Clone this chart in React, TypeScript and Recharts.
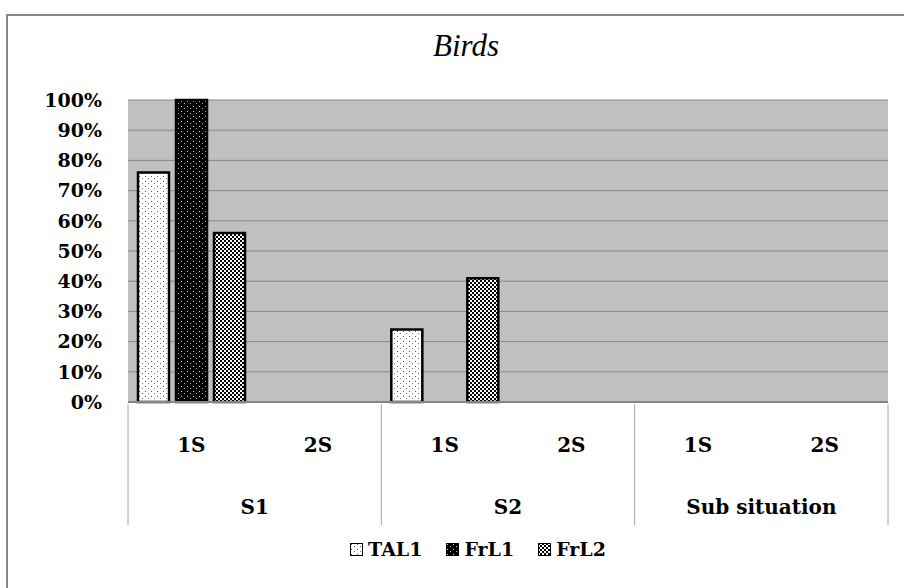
import { BarChart, Bar, XAxis, YAxis, CartesianGrid, Legend } from 'recharts';

const subLabels = ['1S', '2S', '1S', '2S', '1S', '2S'];
const groupLabels = ['S1', 'S1', 'S2', 'S2', 'Sub situation', 'Sub situation'];
const tal1 = [76, null, 24, null, null, null];
const frl1 = [100, null, null, null, null, null];
const frl2 = [56, null, 41, null, null, null];
const yTicks = [0, 10, 20, 30, 40, 50, 60, 70, 80, 90, 100];

const series = [
  { key: 'TAL1', fill: 'url(#patTal1)' },
  { key: 'FrL1', fill: 'url(#patFrl1)' },
  { key: 'FrL2', fill: 'url(#patFrl2)' },
];

const data = subLabels.map((sub, i) => ({
  sub,
  group: groupLabels[i],
  TAL1: tal1[i],
  FrL1: frl1[i],
  FrL2: frl2[i],
}));

const W = 904;
const H = 588;
const BAND = (W - 128 - 16) / subLabels.length;
const FONT = "'DejaVu Serif', serif";

function SubTick({ x, y, payload }: any) {
  return (
    <text x={x} y={y + 48} textAnchor="middle" fontFamily={FONT} fontWeight="bold" fontSize={20} fill="#000">
      {payload.value}
    </text>
  );
}

function GroupTick({ x, y, index, payload }: any) {
  const top = y - 61;
  const bottom = y + 60;
  if (index % 2 === 1) {
    return index === subLabels.length - 1 ? (
      <line x1={x + BAND / 2} x2={x + BAND / 2} y1={top} y2={bottom} stroke="#a6a6a6" strokeWidth={1} />
    ) : (
      <g />
    );
  }
  return (
    <g>
      <line x1={x - BAND / 2} x2={x - BAND / 2} y1={top} y2={bottom} stroke="#a6a6a6" strokeWidth={1} />
      <text x={x + BAND / 2} y={y + 49} textAnchor="middle" fontFamily={FONT} fontWeight="bold" fontSize={20} fill="#000">
        {payload.value}
      </text>
    </g>
  );
}

function LegendContent() {
  return (
    <div style={{ display: 'flex', justifyContent: 'center', gap: 24, paddingLeft: 52, fontFamily: FONT, fontWeight: 'bold', fontSize: 19 }}>
      {series.map((s) => (
        <span key={s.key} style={{ display: 'flex', alignItems: 'center' }}>
          <svg width={13} height={13} style={{ marginRight: 5 }}>
            <rect x={0.5} y={0.5} width={12} height={12} fill={s.fill} stroke="#000" strokeWidth={1} />
          </svg>
          {s.key}
        </span>
      ))}
    </div>
  );
}

export default function App() {
  return (
    <div style={{ position: 'absolute', left: 0, top: 0, width: W, height: H, overflow: 'hidden', background: '#fff' }}>
      <div
        style={{
          position: 'absolute',
          left: 6,
          top: 14,
          width: W,
          height: H,
          borderTop: '2px solid #868686',
          borderLeft: '2px solid #868686',
        }}
      />
      <div style={{ position: 'absolute', left: 0, top: 0 }}>
        <BarChart width={W} height={H} data={data} margin={{ top: 100, right: 16, bottom: 64, left: 0 }} barSize={31} barGap={7}>
          <defs>
            <pattern id="patTal1" width={6} height={5} patternUnits="userSpaceOnUse">
              <rect width={6} height={5} fill="#fff" />
              <rect x={1} y={1} width={1} height={1} fill="#555" />
              <rect x={4} y={3} width={1} height={1} fill="#777" />
            </pattern>
            <pattern id="patFrl1" width={6} height={5} patternUnits="userSpaceOnUse">
              <rect width={6} height={5} fill="#000" />
              <rect x={1} y={1} width={1} height={1} fill="#ddd" />
              <rect x={4} y={3} width={1} height={1} fill="#bbb" />
            </pattern>
            <pattern id="patFrl2" width={4} height={4} patternUnits="userSpaceOnUse">
              <rect width={4} height={4} fill="#fff" />
              <rect x={0} y={0} width={2} height={2} fill="#000" />
              <rect x={2} y={2} width={2} height={2} fill="#000" />
            </pattern>
          </defs>
          <text x={466} y={56} textAnchor="middle" fontFamily="'Liberation Serif', serif" fontStyle="italic" fontSize={31} fill="#000">
            Birds
          </text>
          <CartesianGrid vertical={false} stroke="#868686" strokeWidth={1} fill="#c0c0c0" fillOpacity={1} />
          <XAxis
            dataKey="sub"
            height={61}
            tickLine={false}
            tickSize={0}
            interval={0}
            axisLine={{ stroke: '#868686', strokeWidth: 2 }}
            tick={<SubTick />}
          />
          <XAxis
            xAxisId="grp"
            dataKey="group"
            height={61}
            tickLine={false}
            tickSize={0}
            interval={0}
            axisLine={false}
            tick={<GroupTick />}
          />
          <YAxis
            width={128}
            domain={[0, 100]}
            ticks={yTicks}
            interval={0}
            tickLine={false}
            axisLine={false}
            tickSize={0}
            tickMargin={26}
            tickFormatter={(v) => `${v}%`}
            tick={{ fill: '#000', fontFamily: FONT, fontWeight: 'bold', fontSize: 19 }}
          />
          {series.map((s) => (
            <Bar key={s.key} dataKey={s.key} fill={s.fill} stroke="#000" strokeWidth={2.5} isAnimationActive={false} />
          ))}
          <Legend
            layout="horizontal"
            verticalAlign="middle"
            align="center"
            content={<LegendContent />}
            wrapperStyle={{ top: 538, left: 0, width: W }}
          />
        </BarChart>
      </div>
    </div>
  );
}
